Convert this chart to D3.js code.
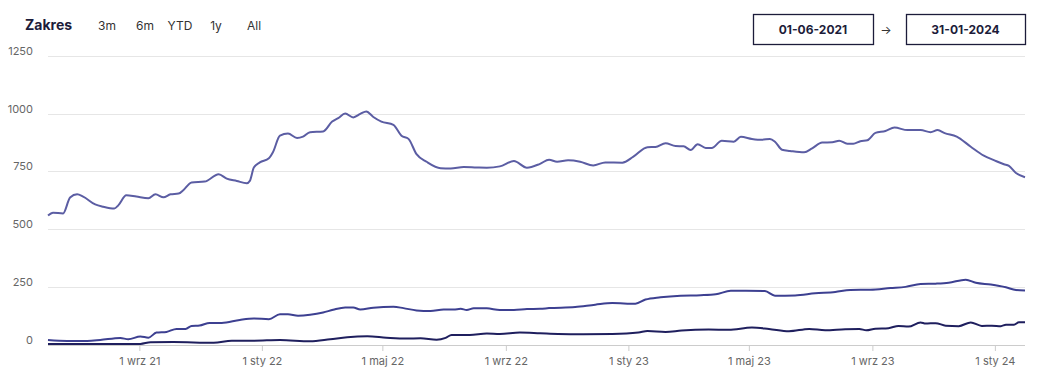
<!DOCTYPE html>
<html><head><meta charset="utf-8">
<script src="https://cdn.jsdelivr.net/npm/d3@7"></script>
<style>
html,body{margin:0;padding:0;background:#fff;}
svg{display:block;font-family:"Inter","Open Sans",sans-serif;}
</style></head><body>
<svg id="c" width="1050" height="380"></svg>
<script>
const rangeButtons = ["3m","6m","YTD","1y","All"];
const startLabel = "01-06-2021";
const endLabel = "31-01-2024";
const yTicks = [0,250,500,750,1000,1250];
const xTickDates = ["2021-09-01","2022-01-01","2022-05-01","2022-09-01","2023-01-01","2023-05-01","2023-09-01","2024-01-01"];
const xTickLabels = ["1 wrz 21","1 sty 22","1 maj 22","1 wrz 22","1 sty 23","1 maj 23","1 wrz 23","1 sty 24"];

const topDates = ["2021-06-02","2021-06-07","2021-06-17","2021-06-24","2021-07-01","2021-07-07","2021-07-19","2021-07-27","2021-08-07","2021-08-11","2021-08-19","2021-08-29","2021-09-10","2021-09-17","2021-09-25","2021-10-02","2021-10-10","2021-10-15","2021-10-23","2021-11-05","2021-11-19","2021-11-27","2021-12-07","2021-12-17","2021-12-20","2021-12-24","2021-12-30","2022-01-08","2022-01-12","2022-01-19","2022-01-27","2022-02-05","2022-02-11","2022-02-18","2022-03-03","2022-03-12","2022-03-18","2022-03-25","2022-04-02","2022-04-09","2022-04-15","2022-04-22","2022-04-30","2022-05-12","2022-05-20","2022-05-27","2022-06-04","2022-06-14","2022-06-28","2022-07-08","2022-07-21","2022-08-03","2022-08-13","2022-08-26","2022-09-09","2022-09-22","2022-10-05","2022-10-14","2022-10-22","2022-11-02","2022-11-14","2022-11-27","2022-12-09","2022-12-26","2023-01-06","2023-01-20","2023-01-28","2023-02-07","2023-02-17","2023-02-25","2023-03-04","2023-03-11","2023-03-19","2023-03-25","2023-04-04","2023-04-16","2023-04-23","2023-05-04","2023-05-14","2023-05-22","2023-05-27","2023-06-03","2023-06-11","2023-06-25","2023-07-03","2023-07-13","2023-07-23","2023-07-30","2023-08-07","2023-08-13","2023-08-20","2023-08-27","2023-09-04","2023-09-14","2023-09-23","2023-10-06","2023-10-19","2023-10-29","2023-11-05","2023-11-12","2023-11-24","2023-12-08","2023-12-21","2023-12-31","2024-01-10","2024-01-15","2024-01-22","2024-01-31"];
const topValues = [559,571,568,637,651,641,607,597,589,603,647,641,634,651,638,651,654,670,702,706,738,719,709,699,709,767,789,807,833,905,914,895,901,920,923,966,981,1001,984,999,1010,986,966,952,905,891,825,792,764,763,769,767,766,772,795,766,783,801,792,798,792,776,789,788,814,855,856,872,860,859,843,868,852,852,883,879,900,891,887,891,879,844,839,833,850,875,876,883,870,870,881,885,917,925,940,929,929,920,929,916,901,857,818,799,781,774,743,725];

const midDates = ["2021-06-02","2021-06-21","2021-07-11","2021-07-24","2021-08-13","2021-08-21","2021-09-02","2021-09-10","2021-09-18","2021-09-28","2021-10-08","2021-10-17","2021-10-23","2021-10-31","2021-11-10","2021-11-22","2021-12-10","2021-12-24","2022-01-08","2022-01-19","2022-01-27","2022-02-06","2022-02-18","2022-03-03","2022-03-13","2022-03-25","2022-04-02","2022-04-09","2022-04-22","2022-05-12","2022-05-22","2022-06-04","2022-06-18","2022-07-01","2022-07-11","2022-07-18","2022-07-24","2022-07-31","2022-08-13","2022-08-26","2022-09-09","2022-09-22","2022-10-05","2022-10-14","2022-11-09","2022-11-29","2022-12-16","2023-01-08","2023-01-18","2023-02-02","2023-02-22","2023-03-14","2023-03-29","2023-04-13","2023-04-28","2023-05-17","2023-05-27","2023-06-16","2023-07-06","2023-07-26","2023-08-10","2023-08-30","2023-09-19","2023-10-04","2023-10-19","2023-11-03","2023-11-16","2023-12-03","2023-12-13","2023-12-28","2024-01-12","2024-01-22","2024-01-31"];
const midValues = [20,16,16,20,29,23,35,30,52,55,68,68,81,83,94,94,107,113,110,131,131,125,129,139,151,161,161,152,160,164,158,148,145,152,152,155,150,157,157,150,150,154,155,158,163,173,180,177,195,205,212,214,218,233,233,232,212,213,222,228,237,238,245,250,262,264,268,281,268,260,248,236,234];

const lowDates = ["2021-06-02","2021-09-02","2021-09-12","2021-10-05","2021-11-14","2021-12-02","2021-12-24","2022-01-19","2022-02-18","2022-03-10","2022-03-27","2022-04-16","2022-05-05","2022-05-25","2022-06-08","2022-06-24","2022-07-03","2022-07-09","2022-07-27","2022-08-13","2022-08-26","2022-09-15","2022-10-05","2022-10-23","2022-11-16","2022-12-16","2023-01-11","2023-01-20","2023-02-07","2023-02-23","2023-03-22","2023-04-11","2023-05-04","2023-05-21","2023-06-10","2023-06-30","2023-07-16","2023-08-05","2023-08-19","2023-08-26","2023-09-04","2023-09-17","2023-09-27","2023-10-07","2023-10-19","2023-10-24","2023-11-03","2023-11-13","2023-11-26","2023-12-08","2023-12-19","2023-12-29","2024-01-07","2024-01-12","2024-01-20","2024-01-25","2024-01-31"];
const lowValues = [3,3,10,11,8,17,17,20,14,23,32,36,30,26,27,21,29,42,42,48,46,52,49,46,45,46,52,59,55,61,65,64,74,68,58,68,62,67,68,62,69,71,81,78,96,91,93,82,80,96,81,82,80,86,86,97,97];

const seriesColors = ["#5b5da3","#3d4091","#1f1f5e"];

const svg = d3.select("#c");
const parse = d3.timeParse("%Y-%m-%d");
const x = d3.scaleTime().domain([parse("2021-06-02"), parse("2024-01-31")]).range([48,1025]);
const y = d3.scaleLinear().domain([0,1250]).range([344.6,56]);

// header
svg.append("text").attr("x",25).attr("y",30).attr("font-size",14).attr("font-weight",700)
  .attr("fill","#1c1c3a").text("Zakres");
const btnX = [107,145,180,216,254];
svg.selectAll(".btn").data(rangeButtons).enter().append("text")
  .attr("x",(d,i)=>btnX[i]).attr("y",30).attr("text-anchor","middle")
  .attr("font-size",12).attr("fill","#333").text(d=>d);

const boxes = [{x:753,w:120,t:startLabel},{x:906,w:119,t:endLabel}];
boxes.forEach(b=>{
  svg.append("rect").attr("x",b.x+0.5).attr("y",14.5).attr("width",b.w).attr("height",30)
    .attr("fill","#fff").attr("stroke","#1c1c3a").attr("stroke-width",1.3);
  svg.append("text").attr("x",b.x+b.w/2).attr("y",34).attr("text-anchor","middle")
    .attr("font-size",12).attr("font-weight",700).attr("fill","#1c1c3a").text(b.t);
});
svg.append("text").attr("x",886).attr("y",34).attr("text-anchor","middle")
  .attr("font-size",12).attr("fill","#333").text("→");

// grid
svg.append("g").selectAll("line").data(yTicks.filter(v=>v>0)).enter().append("line")
  .attr("x1",48).attr("x2",1025).attr("y1",d=>Math.round(y(d))+0.5).attr("y2",d=>Math.round(y(d))+0.5)
  .attr("stroke","#e6e6e6").attr("stroke-width",1);
svg.append("g").selectAll("text").data(yTicks).enter().append("text")
  .attr("x",33).attr("y",d=>y(d)-1).attr("text-anchor","end")
  .attr("font-size",11).attr("fill","#666").text(d=>d);

// x axis
const xt = xTickDates.map(parse);
const xAxis = d3.axisBottom(x).tickValues(xt).tickSize(6).tickPadding(6)
  .tickFormat((d,i)=>xTickLabels[i]);
const gx = svg.append("g").attr("transform","translate(0,345)").call(xAxis);
gx.select(".domain").attr("stroke","#cccccc").attr("d","M48,0.5H1025");
gx.selectAll(".tick line").attr("stroke","#cccccc");
gx.selectAll(".tick text").attr("fill","#666").attr("font-size",11).attr("font-family","Inter, 'Open Sans', sans-serif");

// lines
const line = d3.line().x(d=>x(d[0])).y(d=>y(d[1])).curve(d3.curveMonotoneX);
const series = [[topDates,topValues],[midDates,midValues],[lowDates,lowValues]];
series.forEach((s,i)=>{
  const data = s[0].map((d,j)=>[parse(d), s[1][j]]);
  svg.append("path").datum(data).attr("d",line).attr("fill","none")
    .attr("stroke",seriesColors[i]).attr("stroke-width",2).attr("stroke-linejoin","round");
});
</script></body></html>
